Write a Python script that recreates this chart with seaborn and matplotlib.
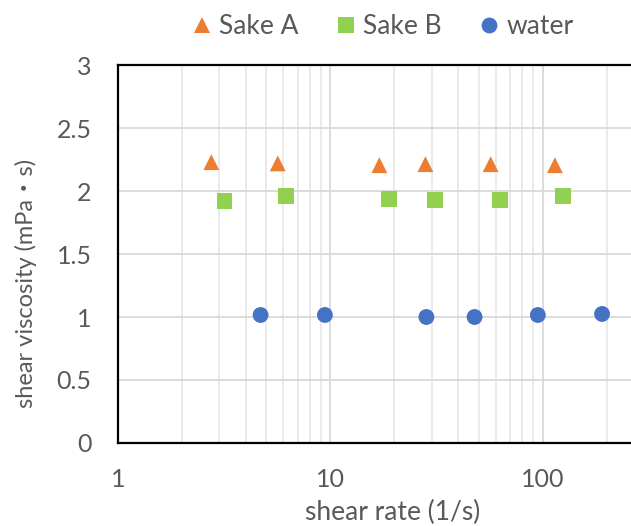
import pandas as pd
import seaborn as sns
import matplotlib.pyplot as plt
from matplotlib.ticker import LogLocator, FixedLocator, NullFormatter

# values
rate_a = [2.75, 5.65, 17.0, 28.0, 56.8, 114]
visc_a = [2.23, 2.22, 2.206, 2.214, 2.214, 2.206]
rate_b = [3.17, 6.16, 18.9, 31.2, 62.6, 124]
visc_b = [1.92, 1.96, 1.937, 1.929, 1.929, 1.96]
rate_w = [4.69, 9.42, 28.3, 47.7, 94.7, 190]
visc_w = [1.016, 1.016, 1.0, 1.0, 1.016, 1.024]
samples = ['Sake A', 'Sake B', 'water']

df = pd.DataFrame({
    'rate': rate_a + rate_b + rate_w,
    'visc': visc_a + visc_b + visc_w,
    'sample': ['Sake A'] * 6 + ['Sake B'] * 6 + ['water'] * 6,
})

sns.set_style('white')
plt.rcParams['font.family'] = ['Lato', 'DejaVu Sans']

fig = plt.figure(figsize=(6.31, 5.26), dpi=100)
ax = fig.add_axes([0.187, 0.158, 0.813, 0.718])

sns.scatterplot(data=df, x='rate', y='visc', hue='sample', style='sample',
                hue_order=samples, style_order=samples,
                palette={'Sake A': '#ED7D31', 'Sake B': '#92D050', 'water': '#4472C4'},
                markers={'Sake A': '^', 'Sake B': 's', 'water': 'o'},
                s=130, linewidth=0, ax=ax, zorder=3)

ax.set_xscale('log')
ax.set_xlim(1, 260)
ax.set_ylim(0, 3)
ax.set_yticks([0, 0.5, 1, 1.5, 2, 2.5, 3])
ax.set_yticklabels(['0', '0.5', '1', '1.5', '2', '2.5', '3'])
ax.xaxis.set_major_locator(FixedLocator([1, 10, 100]))
ax.set_xticklabels(['1', '10', '100'])
ax.xaxis.set_minor_locator(LogLocator(base=10, subs=range(2, 10)))
ax.xaxis.set_minor_formatter(NullFormatter())

ax.grid(True, which='major', axis='both', color='#D9D9D9', linewidth=1.3)
ax.grid(True, which='minor', axis='x', color='#E8E8E8', linewidth=1.3)
ax.set_axisbelow(True)

for side in ['top', 'left', 'bottom']:
    ax.spines[side].set_color('black')
    ax.spines[side].set_linewidth(1.6)
ax.spines['right'].set_visible(False)

ax.tick_params(axis='both', which='both', length=0, labelsize=18, colors='#595959')
ax.tick_params(axis='y', pad=19)
ax.tick_params(axis='x', pad=18)
ax.set_xlabel('shear rate (1/s)', fontsize=19, color='#595959')
ax.xaxis.set_label_coords(0.536, -0.150)
ax.set_ylabel('shear viscosity (mPa・s)', fontsize=17, color='#595959',
              family=['Lato', 'Noto Sans CJK JP', 'DejaVu Sans'])
ax.yaxis.set_label_coords(-0.158, 0.423)

sns.move_legend(ax, 'center', bbox_to_anchor=(0.604, 0.949), bbox_transform=fig.transFigure,
                ncol=3, frameon=False, title=None, fontsize=19,
                handlelength=1.0, handletextpad=0.15, columnspacing=1.3)
for t in ax.get_legend().get_texts():
    t.set_color('#595959')

fig.savefig('out.png', dpi=100)
